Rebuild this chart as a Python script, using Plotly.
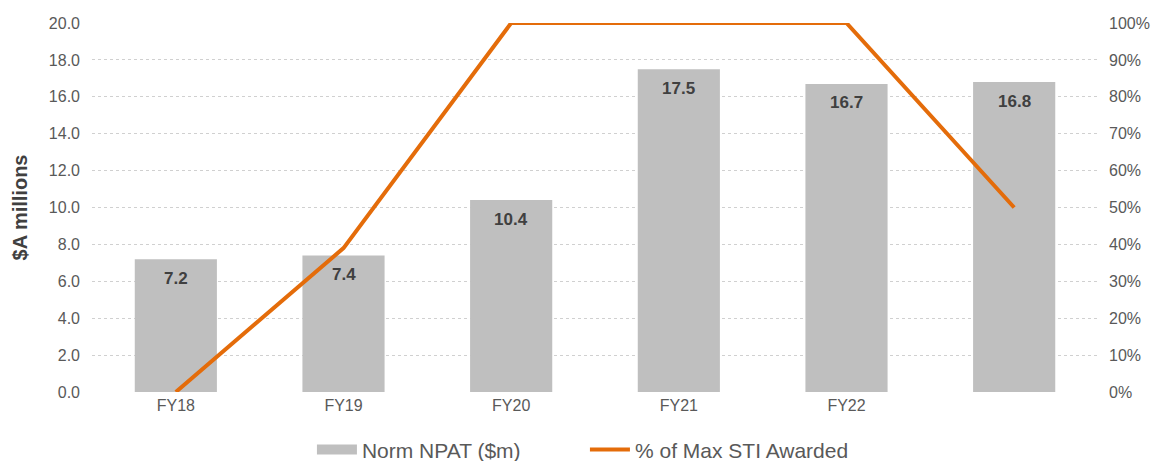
import plotly.graph_objects as go

categories = ["FY18", "FY19", "FY20", "FY21", "FY22", " "]
npat = [7.2, 7.4, 10.4, 17.5, 16.7, 16.8]
sti_pct = [0.0, 0.39, 1.0, 1.0, 1.0, 0.5]
y_ticks = [0, 2, 4, 6, 8, 10, 12, 14, 16, 18, 20]
y2_ticks = [0, 0.1, 0.2, 0.3, 0.4, 0.5, 0.6, 0.7, 0.8, 0.9, 1.0]

font_family = "Liberation Sans, Arial, sans-serif"
grey_text = "#595959"
bar_color = "#bfbfbf"
line_color = "#e46c0a"

fig = go.Figure()
fig.add_trace(go.Bar(
    x=categories, y=npat, name="Norm NPAT ($m)",
    marker=dict(color=bar_color, line=dict(width=0)),
    yaxis="y", showlegend=False,
))
# legend swatch for the bars (wide rectangle like the reference)
fig.add_trace(go.Scatter(
    x=[None], y=[None], name="Norm NPAT ($m)", mode="lines",
    line=dict(color=bar_color, width=10), yaxis="y",
))
fig.add_trace(go.Scatter(
    x=categories, y=sti_pct, name="% of Max STI Awarded",
    mode="lines", line=dict(color=line_color, width=4),
    yaxis="y2",
))

for c, v in zip(categories, npat):
    fig.add_annotation(
        x=c, y=v, text=f"<b>{v:.1f}</b>", showarrow=False,
        yshift=-19, xref="x", yref="y",
        font=dict(size=17, color="#404040", family=font_family),
    )

fig.update_layout(
    width=1156, height=461,
    margin=dict(l=92, r=58, t=23, b=69, autoexpand=False),
    paper_bgcolor="white", plot_bgcolor="white",
    font=dict(family=font_family, color=grey_text, size=16),
    bargap=0.51,
    showlegend=True,
    legend=dict(orientation="h", x=0.49, xanchor="center", y=-0.157, yanchor="middle",
                font=dict(size=21, color=grey_text), traceorder="normal",
                itemwidth=40, tracegroupgap=0, entrywidth=218, entrywidthmode="pixels"),
    xaxis=dict(showgrid=False, showline=False, ticks="", ticklabelstandoff=2, automargin=False,
               tickfont=dict(size=16, color=grey_text)),
    yaxis=dict(range=[0, 20], tickvals=y_ticks, tickformat=".1f", automargin=False,
               showgrid=True, gridcolor="#d0d0d0", griddash="dot", gridwidth=1,
               zeroline=False, showline=False, ticks="", ticklabelstandoff=11,
               tickfont=dict(size=16, color=grey_text),
               title=dict(text="<b>$A millions</b>", font=dict(size=20, color="#404040"), standoff=15)),
    yaxis2=dict(range=[0, 1], tickvals=y2_ticks, tickformat=".0%", overlaying="y", side="right",
                showgrid=False, zeroline=False, showline=False, ticklabelstandoff=10, automargin=False,
                tickfont=dict(size=16, color=grey_text)),
)

fig.write_html("out.html", config={"displayModeBar": False},
               post_script="document.body.style.margin='0';document.body.style.overflow='hidden';")
